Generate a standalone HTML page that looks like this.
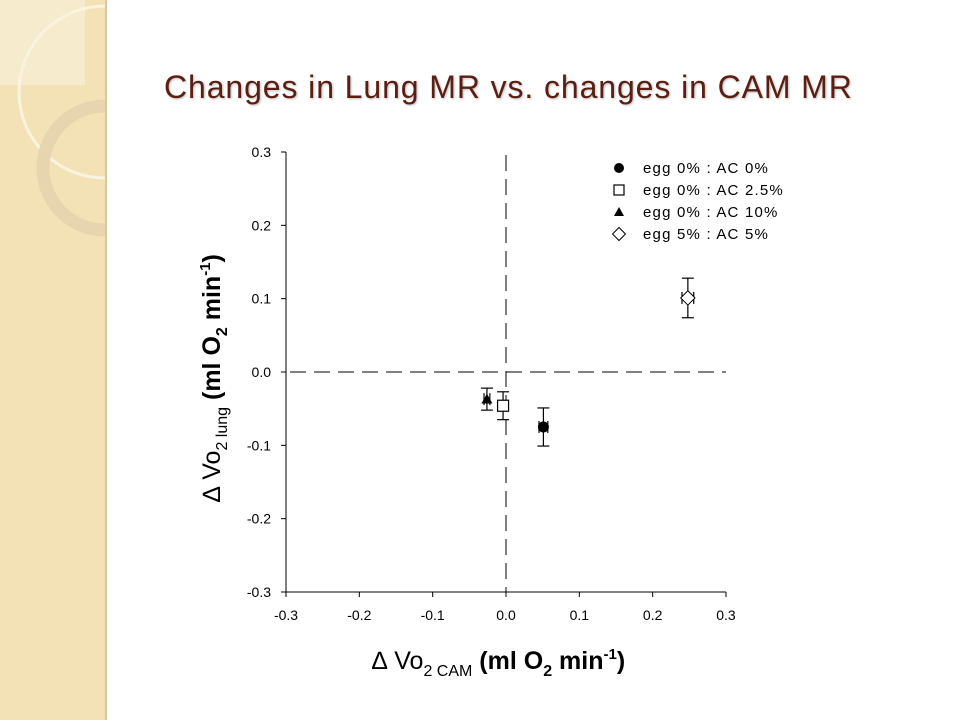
<!DOCTYPE html>
<html><head><meta charset="utf-8"><style>
body{margin:0;width:960px;height:720px;background:#fff;position:relative;overflow:hidden;font-family:"Liberation Sans",sans-serif}
#side{position:absolute;left:0;top:0;width:105px;height:720px;background:#f3e2b6;border-right:2px solid #d9c89e}
#title{position:absolute;left:164px;top:69px;font-family:"Liberation Sans",sans-serif;font-size:32px;letter-spacing:0.9px;color:#5a1f12;text-shadow:1px 1px 2px #bbb}
</style></head><body>
<div id="side">
<svg width="105" height="720">
<rect x="0" y="0" width="85" height="85" fill="#f7ebcd"/>
<circle cx="105" cy="92" r="86" fill="none" stroke="#faf3e0" stroke-width="3"/>
<circle cx="105" cy="168" r="62" fill="none" stroke="#e6d5ae" stroke-width="13"/>
</svg></div>
<div id="title">Changes in Lung MR vs. changes in CAM MR</div>
<svg id="chart" width="960" height="720" style="position:absolute;left:0;top:0"></svg>
<script>
const seriesNames=["egg 0% :  AC 0%","egg 0% :  AC 2.5%","egg 0% : AC 10%","egg 5% : AC 5%"];
const xValues=[0.051,-0.004,-0.026,0.248];
const yValues=[-0.075,-0.046,-0.037,0.101];
const yErr=[0.026,0.019,0.015,0.027];
const xErr=[0.006,0.004,0.004,0.008];
const markers=["circle","square","triangle","diamond"];
const ticks=[-0.3,-0.2,-0.1,0.0,0.1,0.2,0.3];
const tickLabels=["-0.3","-0.2","-0.1","0.0","0.1","0.2","0.3"];
const NS="http://www.w3.org/2000/svg",svg=document.getElementById('chart');
const X=v=>506+v*733.3, Y=v=>372-v*733.3;
function el(t,a,p){const e=document.createElementNS(NS,t);for(const k in a)e.setAttribute(k,a[k]);(p||svg).appendChild(e);return e;}
function txt(s,a){const e=el('text',a);e.textContent=s;return e;}
let e=el('line',{x1:286,y1:152,x2:286,y2:592,stroke:'#000'});

e=el('line',{x1:286,y1:592,x2:726,y2:592,stroke:'#000'});

ticks.forEach((t,i)=>{
 el('line',{x1:281,y1:Y(t),x2:286,y2:Y(t),stroke:'#000'});
 el('line',{x1:X(t),y1:592,x2:X(t),y2:597,stroke:'#000'});
 e=txt(tickLabels[i],{x:271,y:Y(t)+5,'text-anchor':'end','font-size':14});
 
 e=txt(tickLabels[i],{x:X(t),y:620,'text-anchor':'middle','font-size':14});
 
});
e=el('line',{x1:X(0),y1:155,x2:X(0),y2:592,stroke:'#000','stroke-dasharray':'16,8'});

e=el('line',{x1:290,y1:Y(0),x2:726,y2:Y(0),stroke:'#000','stroke-dasharray':'16,8'});

function marker(type,cx,cy,s){
 if(type=='circle')return el('circle',{cx,cy,r:s,fill:'#000'});
 if(type=='square')return el('rect',{x:cx-s,y:cy-s,width:2*s,height:2*s,fill:'#fff',stroke:'#000','stroke-width':1.2});
 if(type=='triangle')return el('polygon',{points:`${cx},${cy-s} ${cx-s},${cy+s*0.8} ${cx+s},${cy+s*0.8}`,fill:'#000'});
 return el('polygon',{points:`${cx},${cy-s*1.3} ${cx+s*1.3},${cy} ${cx},${cy+s*1.3} ${cx-s*1.3},${cy}`,fill:'#fff',stroke:'#000'});
}
xValues.forEach((xv,i)=>{
 const cx=X(xv),cy=Y(yValues[i]),y1=Y(yValues[i]+yErr[i]),y2=Y(yValues[i]-yErr[i]),x1=X(xv-xErr[i]),x2=X(xv+xErr[i]);
 const g=el('g',{stroke:'#000','stroke-width':1.2});
 
 el('line',{x1:cx,y1:y1,x2:cx,y2:y2},g);el('line',{x1:cx-6,y1:y1,x2:cx+6,y2:y1},g);el('line',{x1:cx-6,y1:y2,x2:cx+6,y2:y2},g);
 el('line',{x1:x1,y1:cy,x2:x2,y2:cy},g);el('line',{x1:x1,y1:cy-6,x2:x1,y2:cy+6},g);el('line',{x1:x2,y1:cy-6,x2:x2,y2:cy+6},g);
 const m=marker(markers[i],cx,cy,5.5);
 
 const ly=172+i*22;
 const lm=marker(markers[i],619,ly-4,5);
 
 const lt=txt(seriesNames[i],{x:643,y:ly+1,'font-size':15,'letter-spacing':'1.2','xml:space':'preserve'});
 
});
e=el('text',{x:372,y:669,'font-size':25,'font-weight':'bold'});
e.innerHTML='<tspan font-weight="normal">∆ Vo</tspan><tspan font-size="16" dy="7" font-weight="normal">2 CAM</tspan><tspan dy="-7"> (ml O</tspan><tspan font-size="16" dy="7">2</tspan><tspan dy="-7"> min</tspan><tspan font-size="15" dy="-10">-1</tspan><tspan dy="10">)</tspan>';

e=el('text',{x:0,y:0,'font-size':25,'font-weight':'bold',transform:'translate(220,502) rotate(-90)'});
e.innerHTML='<tspan font-weight="normal">∆ Vo</tspan><tspan font-size="16" dy="7" font-weight="normal">2 lung</tspan><tspan dy="-7"> (ml O</tspan><tspan font-size="16" dy="7">2</tspan><tspan dy="-7"> min</tspan><tspan font-size="15" dy="-10">-1</tspan><tspan dy="10">)</tspan>';

</script>
</body></html>
